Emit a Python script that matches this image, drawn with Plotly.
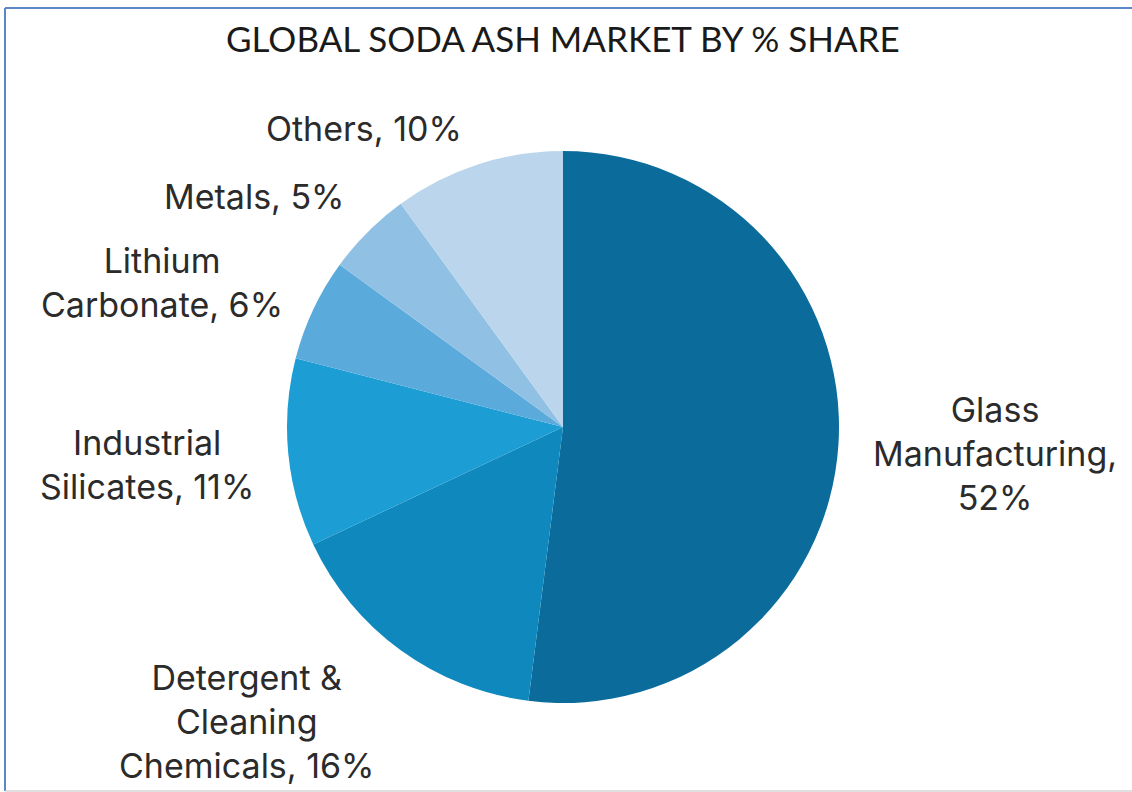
import plotly.graph_objects as go

# Market share by end use (percent)
segments = ["Glass Manufacturing", "Detergent & Cleaning Chemicals", "Industrial Silicates",
            "Lithium Carbonate", "Metals", "Others"]
shares = [52, 16, 11, 6, 5, 10]
colors = ["#0B6C9C", "#0F88BE", "#1C9ED4", "#5AABDC", "#90C0E4", "#BBD6EC"]

# Label text for each slice, with its own line breaks
label_lines = [
    ["Glass", "Manufacturing,", "{v}%"],
    ["Detergent &", "Cleaning", "Chemicals, {v}%"],
    ["Industrial", "Silicates, {v}%"],
    ["Lithium", "Carbonate, {v}%"],
    ["Metals, {v}%"],
    ["Others, {v}%"],
]
# Label centres in pixels (x, y from top)
label_pos = [(995, 453), (246, 721), (147, 464), (162, 282), (254, 197), (364, 128)]

W, H = 1132, 792

fig = go.Figure(go.Pie(
    labels=segments,
    values=shares,
    sort=False,
    direction="clockwise",
    rotation=0,
    marker=dict(colors=colors, line=dict(width=0)),
    textinfo="none",
    hoverinfo="label+percent",
    showlegend=False,
    domain=dict(x=[287 / W, 839 / W], y=[88 / H, 642 / H]),
))

annotations = [
    dict(text="GLOBAL SODA ASH MARKET BY % SHARE", x=563 / W, y=1 - 38 / H,
         xref="paper", yref="paper", showarrow=False, xanchor="center", yanchor="middle",
         font=dict(family="Lato, Open Sans, sans-serif", size=35, color="#1a1a1a"))
]
for lines, v, (px, py) in zip(label_lines, shares, label_pos):
    txt = "<br>".join(l.format(v=v) for l in lines)
    annotations.append(dict(
        text=txt, x=px / W, y=1 - py / H, xref="paper", yref="paper",
        showarrow=False, xanchor="center", yanchor="middle", align="center",
        font=dict(family="Inter, Roboto, sans-serif", size=34, color="#2b2b2b"),
    ))

# Frame around the chart area
shapes = [
    dict(type="line", xref="paper", yref="paper", x0=5 / W, x1=1, y0=1 - 8 / H, y1=1 - 8 / H,
         line=dict(color="#5B87C6", width=2)),
    dict(type="line", xref="paper", yref="paper", x0=5 / W, x1=5 / W, y0=1 - 8 / H, y1=1 / H,
         line=dict(color="#5B87C6", width=2)),
    dict(type="line", xref="paper", yref="paper", x0=5 / W, x1=1, y0=1 / H, y1=1 / H,
         line=dict(color="#D4D4D4", width=1.5)),
]

fig.update_layout(
    width=W, height=H,
    margin=dict(l=0, r=0, t=0, b=0),
    paper_bgcolor="white",
    plot_bgcolor="white",
    annotations=annotations,
    shapes=shapes,
)

fig.write_html("out.html")
